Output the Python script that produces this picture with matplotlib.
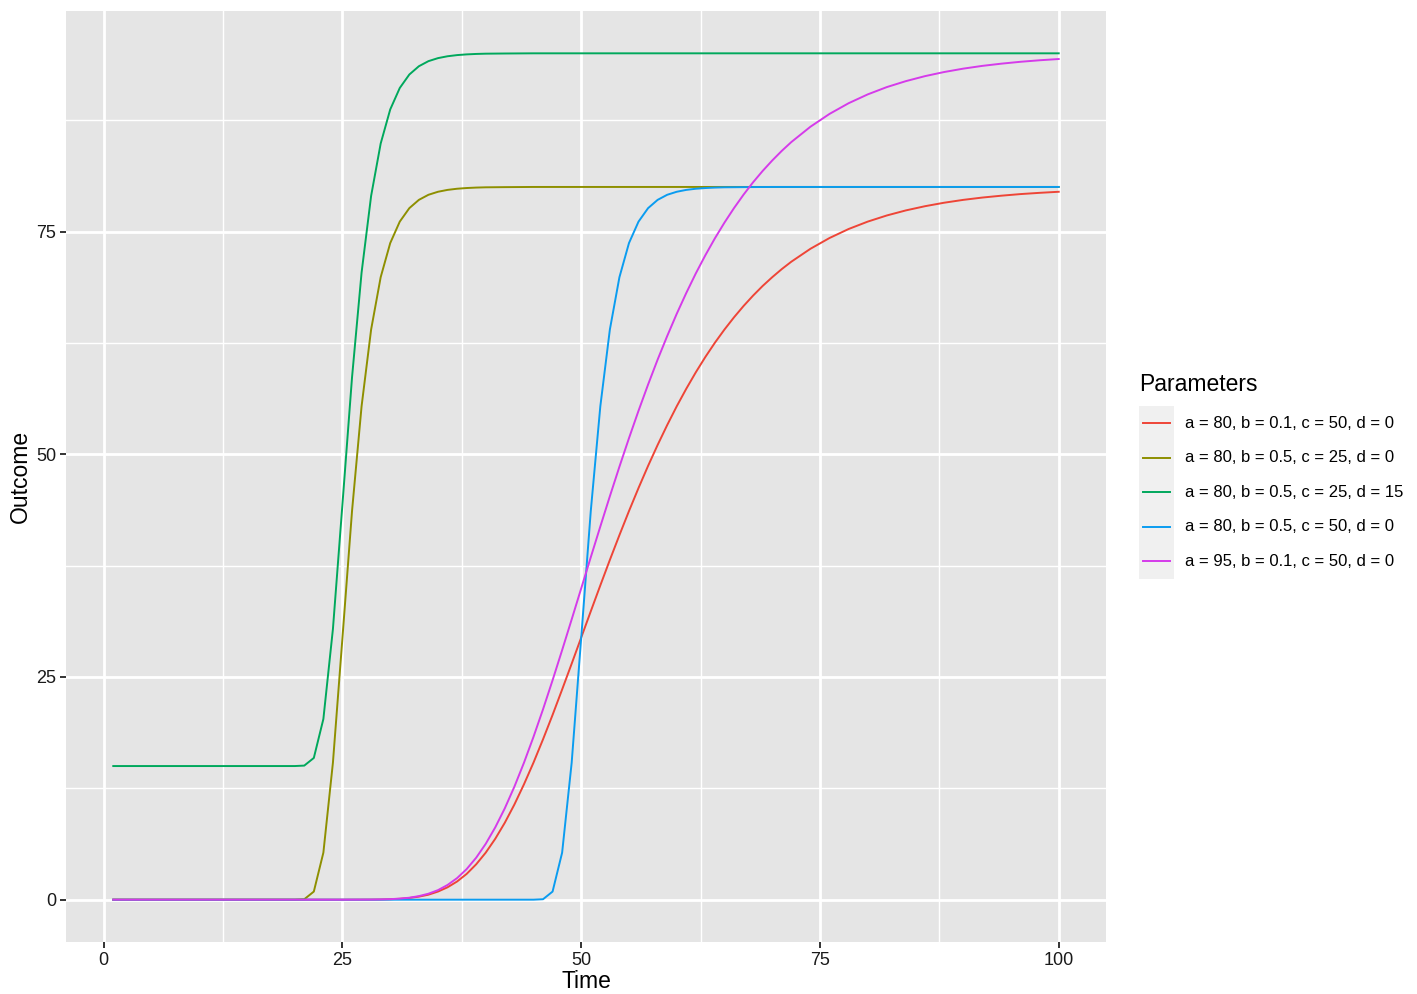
import matplotlib
matplotlib.use("Agg")
import matplotlib.pyplot as plt
from matplotlib.lines import Line2D
from matplotlib.patches import Rectangle

plt.rcParams['font.family'] = ['Liberation Sans', 'DejaVu Sans']

# ---- data ----
labels = ["a = 80, b = 0.1, c = 50, d = 0",
          "a = 80, b = 0.5, c = 25, d = 0",
          "a = 80, b = 0.5, c = 25, d = 15",
          "a = 80, b = 0.5, c = 50, d = 0",
          "a = 95, b = 0.1, c = 50, d = 0"]
colors = ["#EE4537", "#8E8F00", "#00A85C", "#0A9CF0", "#D53BEA"]

t_slow = [1, 25, 28] + list(range(29, 73)) + list(range(74, 101, 2))
y_red = [0, 0, 0.01,
         0.02, 0.05, 0.10, 0.19, 0.34, 0.56, 0.91, 1.39, 2.04, 2.89, 3.97, 5.28, 6.84, 8.64,
         10.68, 12.94, 15.38, 18.00, 20.74, 23.59, 26.49, 29.43, 32.37, 35.28, 38.14, 40.92,
         43.62, 46.21, 48.69, 51.04, 53.27, 55.38, 57.35, 59.20, 60.92, 62.52, 64.00, 65.37,
         66.64, 67.81, 68.89, 69.87, 70.78, 71.61,
         73.06, 74.27, 75.28, 76.11, 76.80, 77.37, 77.84, 78.23, 78.55, 78.81, 79.02, 79.20,
         79.34, 79.46]
y_magenta = [0, 0, 0.01,
             0.03, 0.06, 0.12, 0.22, 0.40, 0.67, 1.07, 1.65, 2.42, 3.43, 4.71, 6.27, 8.12, 10.26,
             12.68, 15.36, 18.27, 21.37, 24.63, 28.01, 31.46, 34.95, 38.44, 41.89, 45.29, 48.60,
             51.80, 54.88, 57.82, 60.62, 63.26, 65.76, 68.10, 70.30, 72.34, 74.24, 76.00, 77.63,
             79.14, 80.53, 81.80, 82.97, 84.05, 85.04,
             86.76, 88.20, 89.40, 90.39, 91.21, 91.88, 92.44, 92.90, 93.28, 93.59, 93.84, 94.05,
             94.22, 94.36]

t_c25 = [1, 20, 21, 22, 23, 24, 25, 26, 27, 28, 29, 30, 31, 32, 33, 34, 35, 36, 37, 38,
         39, 40, 42, 45, 100]
y_olive = [0, 0, 0.05, 0.91, 5.28, 15.38, 29.43, 43.62, 55.38, 64.00, 69.87, 73.70, 76.11,
           77.62, 78.55, 79.12, 79.46, 79.67, 79.80, 79.88, 79.93, 79.96, 79.98, 80.0, 80.0]
y_green = [15, 15, 15.05, 15.91, 20.28, 30.38, 44.43, 58.62, 70.38, 79.00, 84.87, 88.70, 91.11,
           92.62, 93.55, 94.12, 94.46, 94.67, 94.80, 94.88, 94.93, 94.96, 94.98, 95.0, 95.0]

t_c50 = [1, 45, 46, 47, 48, 49, 50, 51, 52, 53, 54, 55, 56, 57, 58, 59, 60, 61, 62, 63,
         64, 65, 67, 70, 100]
y_blue = [0, 0, 0.05, 0.91, 5.28, 15.38, 29.43, 43.62, 55.38, 64.00, 69.87, 73.70, 76.11,
          77.62, 78.55, 79.12, 79.46, 79.67, 79.80, 79.88, 79.93, 79.96, 79.98, 80.0, 80.0]

x_ticks = [0, 25, 50, 75, 100]
y_ticks = [0, 25, 50, 75]

series = [(t_slow, y_red), (t_c25, y_olive), (t_c25, y_green), (t_c50, y_blue), (t_slow, y_magenta)]

# ---- figure ----
W, H = 1417, 994
fig = plt.figure(figsize=(W / 100, H / 100), dpi=100)
ax = fig.add_axes([66 / W, 1 - 942 / H, (1106 - 66) / W, (942 - 11) / H])
ax.set_facecolor("#E5E5E5")
for s in ax.spines.values():
    s.set_visible(False)

for (t, y), c in zip(series, colors):
    ax.plot(t, y, color=c, lw=1.4, solid_joinstyle='round', zorder=3)

ax.set_xlim(-3.95, 104.95)
ax.set_ylim(-4.75, 99.75)
ax.set_xticks(x_ticks)
ax.set_yticks(y_ticks)
ax.set_xticks([12.5, 37.5, 62.5, 87.5], minor=True)
ax.set_yticks([12.5, 37.5, 62.5, 87.5], minor=True)
ax.grid(which='major', color='white', lw=2.0, zorder=1)
ax.grid(which='minor', color='white', lw=1.0, zorder=1)
ax.set_axisbelow(True)
ax.tick_params(which='major', length=4, width=1.4, color='#333333',
               labelsize=13, labelcolor='#1A1A1A', pad=3)
ax.tick_params(which='minor', length=0)

ax.set_xlabel("Time", fontsize=16.5, color='black', labelpad=1)
ax.set_ylabel("Outcome", fontsize=16.5, color='black', labelpad=3)

# ---- legend ----
fig.text(1139 / W, 1 - 385 / H, "Parameters", fontsize=16.5, ha='left', va='center')
key_top = 406
key_h = 34.5
fig.patches.append(Rectangle((1139 / W, 1 - (key_top + 5 * key_h) / H), 35 / W, 5 * key_h / H,
                             transform=fig.transFigure, facecolor='#F0F0F0', edgecolor='none'))
for i, (lab, c) in enumerate(zip(labels, colors)):
    yc = 1 - (key_top + key_h * (i + 0.5)) / H
    fig.lines.append(Line2D([1143 / W, 1170 / W], [yc, yc], transform=fig.transFigure,
                            color=c, lw=1.4))
    fig.text(1185 / W, yc, lab, fontsize=12.0, ha='left', va='center')

fig.savefig("out.png", dpi=100)
